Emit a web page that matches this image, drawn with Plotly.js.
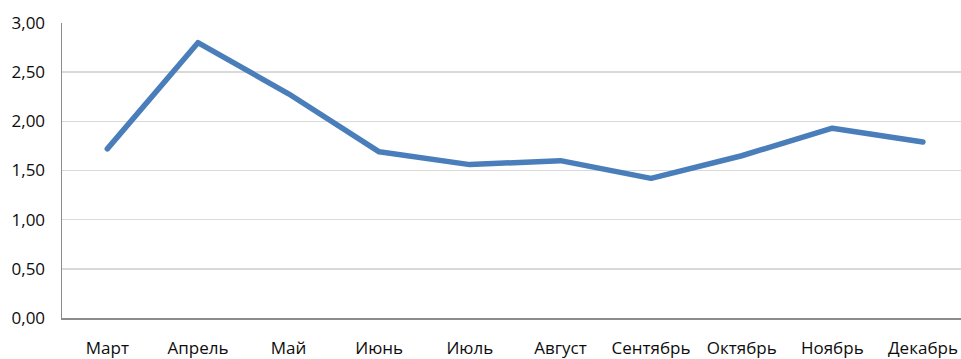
<!DOCTYPE html>
<html>
<head>
<meta charset="utf-8">
<script src="https://cdn.plot.ly/plotly-3.0.1.min.js"></script>
<style>html,body{margin:0;padding:0;background:#fff;}#chart{width:961px;height:359px;}
#chart .js-line{stroke-linecap:round;stroke-linejoin:round;}</style>
</head>
<body>
<div id="chart"></div>
<script>
const months = ["Март","Апрель","Май","Июнь","Июль","Август","Сентябрь","Октябрь","Ноябрь","Декабрь"];
const values = [1.72, 2.80, 2.28, 1.69, 1.56, 1.60, 1.42, 1.65, 1.93, 1.79];
const yTicks = [0, 0.5, 1, 1.5, 2, 2.5, 3];
const yTickText = ["0,00","0,50","1,00","1,50","2,00","2,50","3,00"];

const fontFamily = "Open Sans, Noto Sans, sans-serif";
Plotly.newPlot("chart", [{
  x: months,
  y: values,
  type: "scatter",
  mode: "lines",
  line: {color: "#4a7ebb", width: 5.5},
  hoverinfo: "skip"
}], {
  width: 961, height: 359,
  margin: {l: 62, r: 0, t: 23, b: 41},
  paper_bgcolor: "#ffffff",
  plot_bgcolor: "#ffffff",
  showlegend: false,
  font: {family: fontFamily, size: 17, color: "#0d0d0d"},
  xaxis: {
    type: "category",
    range: [-0.5, 9.42],
    showgrid: false,
    showline: true,
    linecolor: "#8c8c8c",
    linewidth: 1.5,
    ticks: "",
    ticklabelstandoff: 14,
    tickfont: {family: fontFamily, size: 17, color: "#0d0d0d"},
    fixedrange: true
  },
  yaxis: {
    range: [0, 3],
    tickvals: yTicks,
    ticktext: yTickText,
    showgrid: true,
    gridcolor: "#d9d9d9",
    gridwidth: 1.5,
    zeroline: false,
    showline: true,
    linecolor: "#8c8c8c",
    linewidth: 1.5,
    ticks: "",
    ticklabelstandoff: 12,
    tickfont: {family: fontFamily, size: 17, color: "#0d0d0d"},
    fixedrange: true
  }
}, {staticPlot: true, displayModeBar: false});
</script>
</body>
</html>
